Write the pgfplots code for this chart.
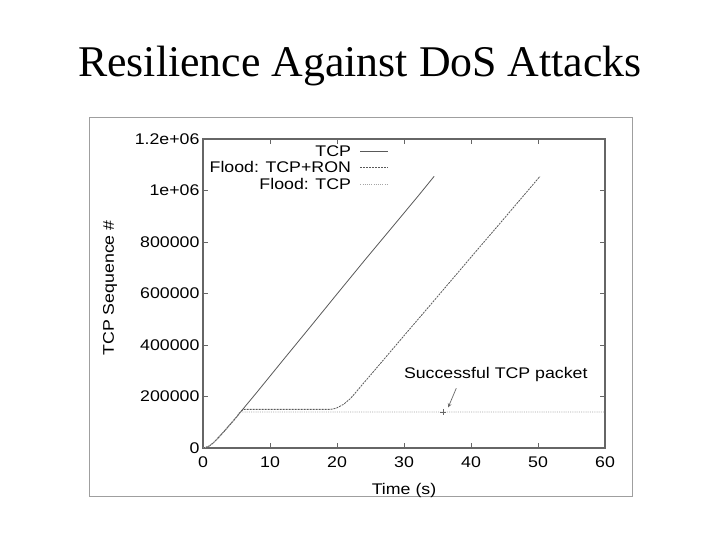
\documentclass[border=0pt]{standalone}
\usepackage{pgfplots}
\pgfplotsset{compat=1.18}
\usepackage{fontspec}
\setmainfont{Liberation Serif}
\newfontfamily\chartfont[FakeStretch=1.15]{Liberation Sans}
\begin{document}
\begin{tikzpicture}[x=1bp,y=1bp]
\path[fill=white] (0,0) rectangle (720,540);
\node[font=\fontsize{44}{52}\selectfont, anchor=base, inner sep=0pt] at (360,463) {Resilience Against DoS Attacks};
\draw[gray!75, line width=1bp] (89,422) rectangle (632,43);
\begin{axis}[
  at={(203bp,92bp)}, anchor=south west, scale only axis,
  width=402bp, height=309bp,
  xmin=0, xmax=60, ymin=0, ymax=1200000,
  xtick={0,10,20,30,40,50,60},
  ytick={0,200000,400000,600000,800000,1000000,1200000},
  yticklabels={0,200000,400000,600000,800000,1e+06,1.2e+06},
  scaled y ticks=false,
  tick align=inside, major tick length=5bp,
  axis line style={gray!80!black, line width=1.5bp},
  every tick/.style={gray!80!black, line width=0.8bp},
  ticklabel style={font=\chartfont\fontsize{15.5}{18}\selectfont},
  xticklabel style={yshift=-5bp},
  /pgf/number format/assume math mode=true,
  xlabel={Time (s)}, ylabel={TCP Sequence \#},
  label style={font=\chartfont\fontsize{15.5}{18}\selectfont},
  xlabel style={at={(axis description cs:0.5,-0.136)}, anchor=center},
  ylabel style={at={(axis description cs:-0.231,0.518)}, anchor=center, rotate=0},
  legend plot pos=right,
  legend cell align=right,
  legend style={at={(0.465,0.99)}, anchor=north east, draw=none, fill=none,
    font=\chartfont\fontsize{15.5}{18}\selectfont, row sep=0bp, inner sep=1bp},
  legend image code/.code={\draw[#1] (0bp,0bp) -- (28bp,0bp);},
]
\addplot[gray!70!black, line width=0.8bp] coordinates {
 (0,0) (0.5,3000) (1,9000) (1.5,19000) (2,32000) (3,60000) (4,90000) (5,120000)
 (5.8,146000) (8,215000) (12,343000) (16,470000) (20,598000) (24,725000)
 (28,850000) (32,975000) (34.5,1055000)};
\addlegendentry{TCP\rule{7bp}{0pt}}
\addplot[gray!70!black, line width=0.8bp, dash pattern=on 2bp off 1bp] coordinates {
 (0,0) (0.5,3000) (1,9000) (1.5,19000) (2,32000) (3,60000) (4,90000) (5,120000)
 (5.5,138000) (6,150000) (10,150000) (15,150000) (19,150000) (19.5,152000)
 (20,156000) (21,170000) (22,192000) (23,222000) (24,253000) (25,283000)
 (30,436000) (35,588000) (40,741000) (45,893000) (50.3,1055000)};
\addlegendentry{Flood: TCP+RON\rule{7bp}{0pt}}
\addplot[gray!70, line width=0.8bp, dash pattern=on 1bp off 1.2bp] coordinates {
 (0,0) (0.5,3000) (1,9000) (1.5,19000) (2,32000) (3,60000) (4,90000) (5,120000)
 (5.5,140000) (20,140000) (35.8,140000) (60,140000)};
\addlegendentry{Flood: TCP\rule{7bp}{0pt}}
\addplot[gray!80!black, only marks, mark=+, mark size=3bp, forget plot] coordinates {(35.8,140000)};
\node[font=\chartfont\fontsize{15.5}{18}\selectfont] at (axis cs:43.7,284000) {Successful TCP packet};
\draw[-stealth, gray!80!black, line width=0.7bp] (axis cs:37.8,232000) -- (axis cs:36.6,158000);
\end{axis}
\end{tikzpicture}
\end{document}
